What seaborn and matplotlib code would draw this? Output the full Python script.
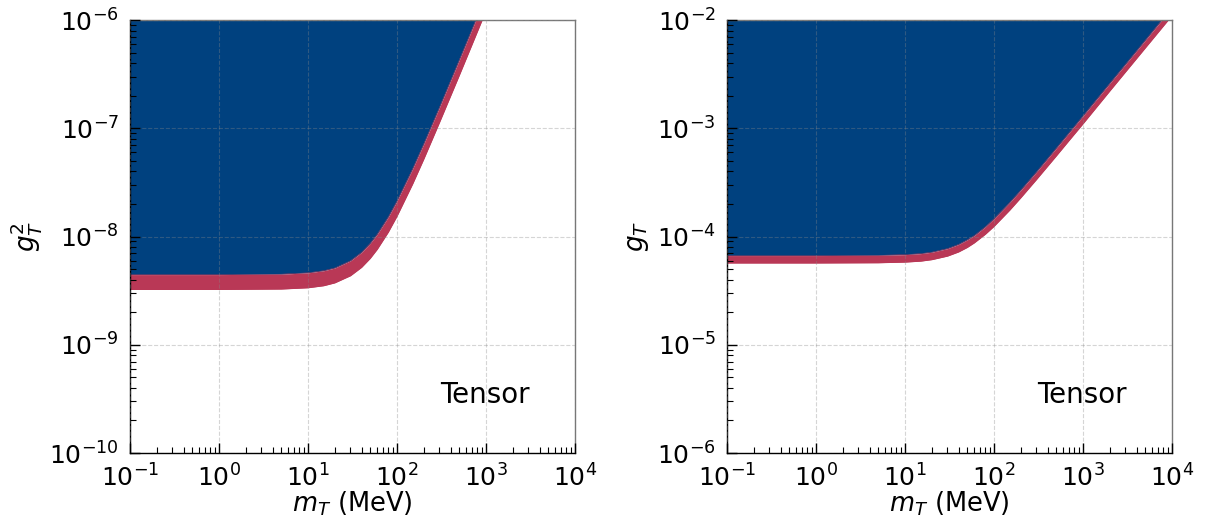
import numpy as np
import pandas as pd
import seaborn as sns
import matplotlib
matplotlib.use('Agg')
import matplotlib.pyplot as plt
from matplotlib.ticker import LogLocator, NullFormatter

# mass grid (MeV) and bounds
m_T = [0.1, 1, 5, 10, 15, 20, 30, 40, 50, 60, 80, 100, 150, 200, 300, 500, 700,
       1000, 2000, 5000, 10000]

# left panel: g_T^2
g2_lower = [3.24e-9, 3.24e-9, 3.27e-9, 3.36e-9, 3.51e-9, 3.73e-9, 4.34e-9, 5.19e-9,
            6.28e-9, 7.62e-9, 1.10e-8, 1.54e-8, 3.06e-8, 5.19e-8, 1.13e-7, 3.07e-7,
            5.99e-7, 1.22e-6, 4.87e-6, 3.04e-5, 1.22e-4]
g2_upper = [4.45e-9, 4.45e-9, 4.49e-9, 4.62e-9, 4.83e-9, 5.12e-9, 5.97e-9, 7.14e-9,
            8.66e-9, 1.05e-8, 1.52e-8, 2.13e-8, 4.23e-8, 7.18e-8, 1.56e-7, 4.26e-7,
            8.30e-7, 1.69e-6, 6.74e-6, 4.21e-5, 1.68e-4]

# right panel: g_T
g_lower = [5.69e-5, 5.69e-5, 5.72e-5, 5.80e-5, 5.92e-5, 6.11e-5, 6.59e-5, 7.20e-5,
           7.92e-5, 8.73e-5, 1.05e-4, 1.24e-4, 1.75e-4, 2.28e-4, 3.36e-4, 5.54e-4,
           7.74e-4, 1.10e-3, 2.21e-3, 5.51e-3, 1.10e-2]
g_upper = [6.67e-5, 6.67e-5, 6.70e-5, 6.80e-5, 6.95e-5, 7.16e-5, 7.73e-5, 8.45e-5,
           9.31e-5, 1.02e-4, 1.23e-4, 1.46e-4, 2.06e-4, 2.68e-4, 3.95e-4, 6.53e-4,
           9.11e-4, 1.30e-3, 2.60e-3, 6.49e-3, 1.30e-2]

blue = '#00417f'
red = '#b93856'

sns.set_style('white')
plt.rcParams['font.family'] = ['DejaVu Sans']
plt.rcParams['mathtext.fontset'] = 'dejavusans'
for key in ['text.color', 'axes.labelcolor', 'xtick.color', 'ytick.color']:
    plt.rcParams[key] = 'black'

fig = plt.figure(figsize=(12.07, 5.27), dpi=100)
ax1 = fig.add_axes([0.1077, 0.1404, 0.3687, 0.8216])
ax2 = fig.add_axes([0.6023, 0.1404, 0.3687, 0.8216])

panels = [
    (ax1, g2_lower, g2_upper, (1e-10, 1e-6), r'$g_T^2$'),
    (ax2, g_lower, g_upper, (1e-6, 1e-2), r'$g_T$'),
]

for ax, lo, up, ylim, ylab in panels:
    df = pd.DataFrame({'m': m_T, 'lower': lo, 'upper': up})
    ax.set_xscale('log')
    ax.set_yscale('log')
    # excluded region above the upper edge
    ax.fill_between(df['m'], df['upper'], ylim[1] * 10, color=blue, lw=0, zorder=1)
    # red band between the two edges
    ax.fill_between(df['m'], df['lower'], df['upper'], color=red, lw=0, zorder=1)
    sns.lineplot(data=df, x='m', y='lower', ax=ax, color=red, lw=0.6, zorder=2)
    sns.lineplot(data=df, x='m', y='upper', ax=ax, color=red, lw=0.3, zorder=2)

    ax.set_xlim(0.1, 1e4)
    ax.set_ylim(*ylim)
    ax.xaxis.set_major_locator(LogLocator(base=10, numticks=10))
    ax.xaxis.set_minor_locator(LogLocator(base=10, subs=np.arange(2, 10), numticks=20))
    ax.xaxis.set_minor_formatter(NullFormatter())
    ax.yaxis.set_major_locator(LogLocator(base=10, numticks=10))
    ax.yaxis.set_minor_locator(LogLocator(base=10, subs=np.arange(2, 10), numticks=20))
    ax.yaxis.set_minor_formatter(NullFormatter())

    ax.grid(True, which='major', ls='--', color='#888888', alpha=0.35, lw=0.8, zorder=3)
    ax.set_axisbelow(False)
    ax.tick_params(which='both', direction='in', left=True, bottom=True,
                   right=False, top=False, labelsize=18, color='black')
    ax.tick_params(which='major', length=7, width=1, pad=8)
    ax.tick_params(which='minor', length=4, width=0.8)
    for side in ['left', 'bottom']:
        ax.spines[side].set_color('black')
        ax.spines[side].set_linewidth(1.0)
    for side in ['top', 'right']:
        ax.spines[side].set_color('#777777')
        ax.spines[side].set_linewidth(1.0)

    ax.set_xlabel(r'$m_T$ (MeV)', fontsize=18.5, labelpad=-1)
    ax.set_ylabel(ylab, fontsize=19, labelpad=4)
    ax.text(0.798, 0.134, 'Tensor', transform=ax.transAxes, fontsize=20,
            ha='center', va='center', zorder=4)

fig.savefig('out.png', dpi=100)
